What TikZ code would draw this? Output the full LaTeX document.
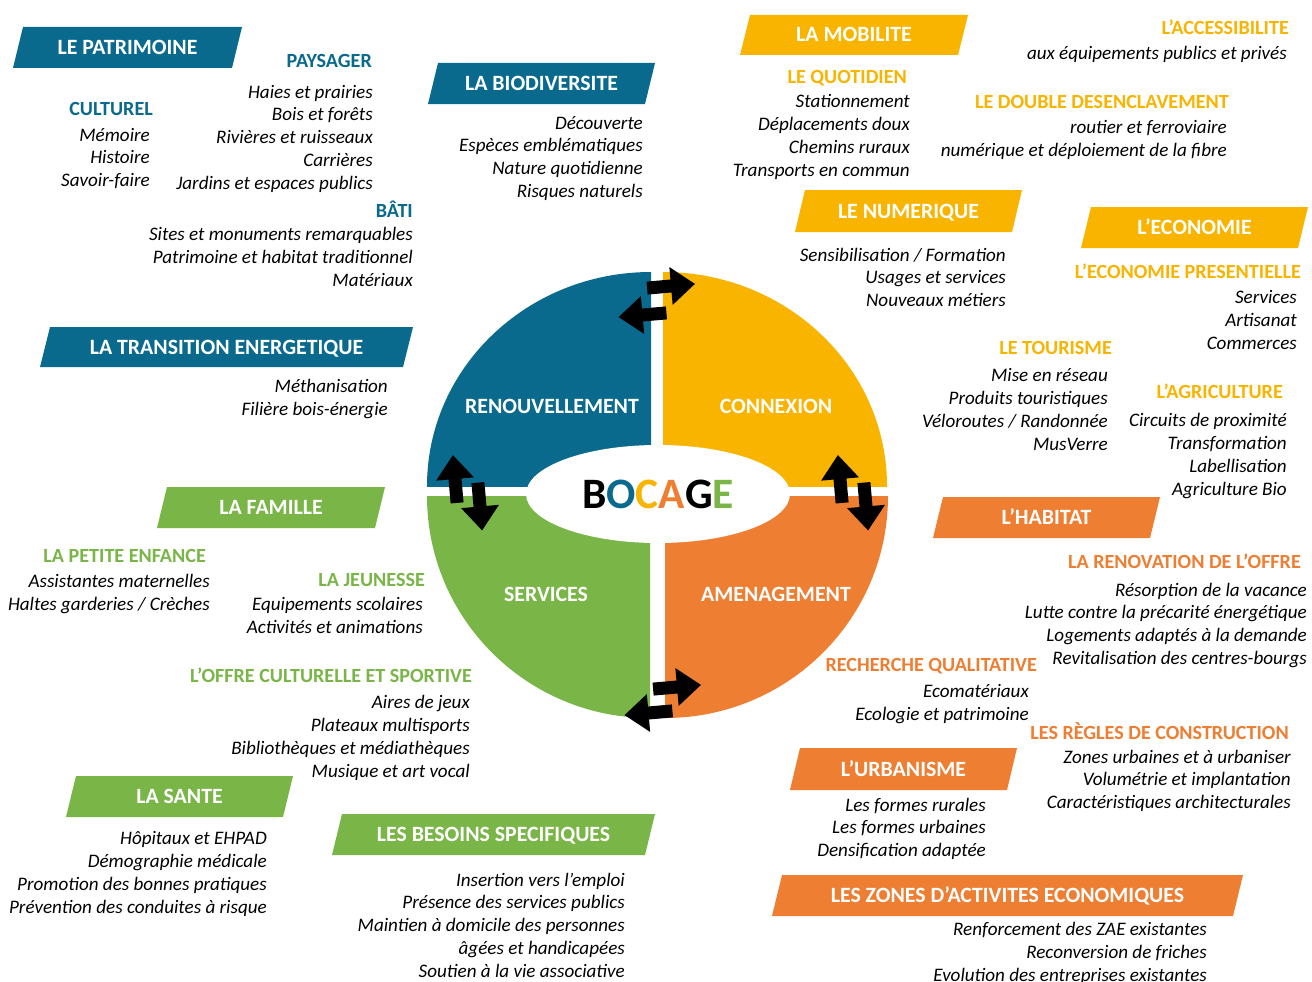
\documentclass[tikz,border=0pt]{standalone}
\usepackage{fontspec}
\setmainfont{Carlito}
\definecolor{cblue}{HTML}{0A6A8E}
\definecolor{cyel}{HTML}{F9B400}
\definecolor{corg}{HTML}{EE7E32}
\definecolor{cgrn}{HTML}{7AB547}
\tikzset{
  item/.style={font=\itshape\fontsize{19.1}{22}\selectfont, inner sep=0pt, text height=12.3pt, text depth=0pt, anchor=east},
  subhead/.style={font=\bfseries\fontsize{20.1}{23}\selectfont, inner sep=0pt, text height=12.9pt, text depth=0pt, anchor=east},
  bannertext/.style={font=\bfseries\fontsize{21.8}{25}\selectfont, text=white, inner sep=0pt, text height=14pt, text depth=0pt},
  quadlabel/.style={font=\bfseries\fontsize{21.8}{25}\selectfont, text=white, inner sep=0pt, text height=14pt, text depth=0pt},
}
\newcommand\banner[7]{%
  \fill[#2] (#3,#6) -- (#3+10,#5) -- (#4,#5) -- (#4-10,#6) -- cycle;
  \node[bannertext] (#1) at ({(#3+#4)/2},{(#5+#6)/2}) {#7};}
\newcommand\itemlist[5]{%
  \foreach \t [count=\i from 0] in {#5} {\node[item] (#1\i) at (#2, #3+#4*\i) {\t};}}
\newcommand\blockarrow[3]{%
  \begin{scope}[shift={(#1,#2)}, rotate=#3]
    \fill[black] (-24,-6.5) -- (0,-6.5) -- (0,-19) -- (24,0) -- (0,19) -- (0,6.5) -- (-24,6.5) -- cycle;
  \end{scope}}
\begin{document}
\begin{tikzpicture}[x=1pt,y=-1pt]
\useasboundingbox (0,0) rectangle (1312,982);
\fill[white] (0,0) rectangle (1312,982);

% ---- circle ----
\begin{scope}\clip (426,268) rectangle (651,486); \fill[cblue] (651,486) ellipse [x radius=224, y radius=214]; \end{scope}
\begin{scope}\clip (663,268) rectangle (889,486); \fill[cyel] (663,486) ellipse [x radius=224, y radius=214]; \end{scope}
\begin{scope}\clip (426,496) rectangle (650,722); \fill[cgrn] (650,496) ellipse [x radius=223, y radius=222]; \end{scope}
\begin{scope}\clip (665,496) rectangle (889,722); \fill[corg] (665,496) ellipse [x radius=223, y radius=222]; \end{scope}
\fill[white] (658,494) ellipse [x radius=132, y radius=49];
\node[font=\bfseries\fontsize{43.4}{47}\selectfont, inner sep=0pt, text height=28pt, text depth=0pt] (bocage) at (658,494)
  {B\textcolor{cblue}{O}\textcolor{cyel}{C}\textcolor{corg}{A}G\textcolor{cgrn}{E}};
\node[quadlabel] (renouv) at (552,406) {RENOUVELLEMENT};
\node[quadlabel] (connex) at (776,406) {CONNEXION};
\node[quadlabel] (serv) at (546,594) {SERVICES};
\node[quadlabel] (amen) at (776,594) {AMENAGEMENT};

% ---- arrows ----
\blockarrow{671}{286}{5}
\blockarrow{642.5}{315}{185}
\blockarrow{455}{479}{95}
\blockarrow{480}{506.5}{-85}
\blockarrow{840}{479}{95}
\blockarrow{866}{506.5}{-85}
\blockarrow{677}{687}{5}
\blockarrow{648.5}{713}{185}

% ---- blue ----
\banner{patrimoine}{cblue}{13}{242}{27}{68}{LE PATRIMOINE}
\node[subhead, text=cblue] (paysager) at (372,61) {PAYSAGER};
\itemlist{pay}{373}{92}{22.8}{Haies et prairies,Bois et forêts,Rivières et ruisseaux,Carrières,Jardins et espaces publics}
\node[subhead, text=cblue] (culturel) at (153,109) {CULTUREL};
\itemlist{cul}{150}{135}{22.5}{Mémoire,Histoire,Savoir-faire}
\node[subhead, text=cblue] (bati) at (413,211) {BÂTI};
\itemlist{bat}{413}{234}{23}{Sites et monuments remarquables,Patrimoine et habitat traditionnel,Matériaux}
\banner{biodiv}{cblue}{428}{655}{63}{104}{LA BIODIVERSITE}
\itemlist{bio}{643}{123}{22.7}{Découverte,Espèces emblématiques,Nature quotidienne,Risques naturels}
\banner{transition}{cblue}{40}{413}{327}{367}{LA TRANSITION ENERGETIQUE}
\itemlist{tra}{388}{386}{23}{Méthanisation,Filière bois-énergie}

% ---- yellow ----
\banner{mobilite}{cyel}{740}{968}{15}{55}{LA MOBILITE}
\node[subhead, text=cyel] (access) at (1289,28) {L’ACCESSIBILITE};
\itemlist{acc}{1287}{53}{23}{aux équipements publics et privés}
\node[subhead, text=cyel] (quotidien) at (907,77) {LE QUOTIDIEN};
\itemlist{quo}{910}{101}{23}{Stationnement,Déplacements doux,Chemins ruraux,Transports en commun}
\node[subhead, text=cyel] (desencl) at (1229,102) {LE DOUBLE DESENCLAVEMENT};
\itemlist{des}{1227}{127}{23}{routier et ferroviaire,numérique et déploiement de la fibre}
\banner{numerique}{cyel}{795}{1022}{190}{232}{LE NUMERIQUE}
\itemlist{num}{1006}{255}{22.7}{Sensibilisation / Formation,Usages et services,Nouveaux métiers}
\banner{economie}{cyel}{1081}{1308}{207}{248}{L’ECONOMIE}
\node[subhead, text=cyel] (present) at (1301,272) {L’ECONOMIE PRESENTIELLE};
\itemlist{pre}{1297}{297}{23}{Services,Artisanat,Commerces}
\node[subhead, text=cyel] (tourisme) at (1112,348) {LE TOURISME};
\itemlist{tou}{1108}{375}{23}{Mise en réseau,Produits touristiques,Véloroutes / Randonnée,MusVerre}
\node[subhead, text=cyel] (agri) at (1283,392) {L’AGRICULTURE};
\itemlist{agr}{1287}{420}{23}{Circuits de proximité,Transformation,Labellisation,Agriculture Bio}

% ---- orange ----
\banner{habitat}{corg}{933}{1160}{497}{538}{L’HABITAT}
\node[subhead, text=corg] (renov) at (1301,562) {LA RENOVATION DE L’OFFRE};
\itemlist{ren}{1307}{590}{22.7}{Résorption de la vacance,Lutte contre la précarité énergétique,Logements adaptés à la demande,Revitalisation des centres-bourgs}
\node[subhead, text=corg] (recherche) at (1037,665) {RECHERCHE QUALITATIVE};
\itemlist{rec}{1029}{691}{23}{Ecomatériaux,Ecologie et patrimoine}
\node[subhead, text=corg] (regles) at (1289,733) {LES RÈGLES DE CONSTRUCTION};
\itemlist{reg}{1291}{757}{22.5}{Zones urbaines et à urbaniser,Volumétrie et implantation,Caractéristiques architecturales}
\banner{urbanisme}{corg}{790}{1017}{748}{790}{L’URBANISME}
\itemlist{urb}{986}{805}{22.5}{Les formes rurales,Les formes urbaines,Densification adaptée}
\banner{zae}{corg}{772}{1243}{875}{916}{LES ZONES D’ACTIVITES ECONOMIQUES}
\itemlist{zae}{1207}{929}{23}{Renforcement des ZAE existantes,Reconversion de friches,Evolution des entreprises existantes}

% ---- green ----
\banner{famille}{cgrn}{157}{385}{487}{528}{LA FAMILLE}
\node[subhead, text=cgrn] (petite) at (206,556) {LA PETITE ENFANCE};
\itemlist{pet}{210}{581}{23}{Assistantes maternelles,Haltes garderies / Crèches}
\node[subhead, text=cgrn] (jeunesse) at (425,580) {LA JEUNESSE};
\itemlist{jeu}{423}{604}{23}{Equipements scolaires,Activités et animations}
\node[subhead, text=cgrn] (offre) at (472,676) {L’OFFRE CULTURELLE ET SPORTIVE};
\itemlist{off}{470}{702}{23}{Aires de jeux,Plateaux multisports,Bibliothèques et médiathèques,Musique et art vocal}
\banner{sante}{cgrn}{66}{293}{776}{817}{LA SANTE}
\itemlist{san}{267}{838}{23}{Hôpitaux et EHPAD,Démographie médicale,Promotion des bonnes pratiques,Prévention des conduites à risque}
\banner{besoins}{cgrn}{332}{655}{814}{855}{LES BESOINS SPECIFIQUES}
\itemlist{bes}{625}{880}{22.75}{Insertion vers l’emploi,Présence des services publics,Maintien à domicile des personnes,âgées et handicapées,Soutien à la vie associative}
\end{tikzpicture}
\end{document}
